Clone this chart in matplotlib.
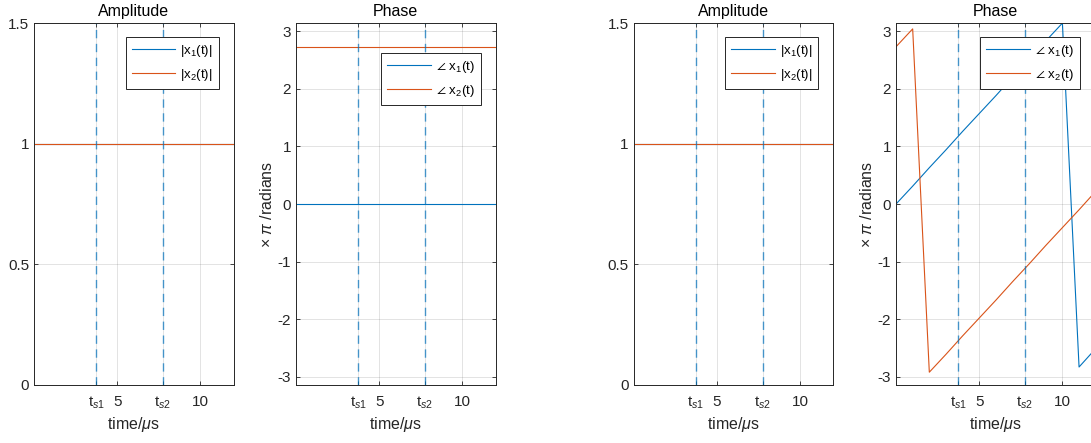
import numpy as np
import matplotlib
matplotlib.use('Agg')
import matplotlib.pyplot as plt

plt.rcParams['font.family'] = ['Liberation Sans', 'DejaVu Sans']
plt.rcParams['mathtext.fontset'] = 'custom'
plt.rcParams['mathtext.rm'] = 'Liberation Sans'
plt.rcParams['mathtext.it'] = 'Liberation Sans:italic'
plt.rcParams['axes.unicode_minus'] = False

# sample times (us)
t = [0, 1, 2, 3, 4, 5, 6, 7, 8, 9, 10, 11, 12]
ts1 = 3.75
ts2 = 7.75

# case 1: constant phase
amp1_a = [1, 1, 1, 1, 1, 1, 1, 1, 1, 1, 1, 1, 1]
amp1_b = [1, 1, 1, 1, 1, 1, 1, 1, 1, 1, 1, 1, 1]
ph1_a = [0, 0, 0, 0, 0, 0, 0, 0, 0, 0, 0, 0, 0]
ph1_b = [2.73, 2.73, 2.73, 2.73, 2.73, 2.73, 2.73, 2.73, 2.73, 2.73, 2.73, 2.73, 2.73]

# case 2: linear phase (wrapped)
amp2_a = [1, 1, 1, 1, 1, 1, 1, 1, 1, 1, 1, 1, 1]
amp2_b = [1, 1, 1, 1, 1, 1, 1, 1, 1, 1, 1, 1, 1]
ph2_a = [0, 0.31, 0.63, 0.94, 1.26, 1.57, 1.88, 2.2, 2.51, 2.83, 3.14, -2.83, -2.51]
ph2_b = [2.73, 3.04, -2.92, -2.61, -2.29, -1.98, -1.67, -1.35, -1.04, -0.72, -0.41, -0.1, 0.22]

blue = (0, 0.447, 0.741)
orange = (0.85, 0.325, 0.098)
dark = (0.15, 0.15, 0.15)

xticks = [ts1, 5, ts2, 10]
xlabels = ['t$_{s1}$', '5', 't$_{s2}$', '10']

fig = plt.figure(figsize=(10.91, 4.43), dpi=100)
lefts = [0.0312, 0.2713, 0.5808, 0.8213]
bot = 0.131
w = 0.183
h = 0.817


def style(ax):
    ax.set_xlim(0, 12)
    ax.set_xticks(xticks)
    ax.set_xticklabels(xlabels)
    ax.grid(True, color=(0.15, 0.15, 0.15), alpha=0.15, linewidth=0.6)
    ax.tick_params(direction='in', length=3, top=True, right=True,
                   colors=dark, labelsize=11, width=0.6)
    ax.tick_params(axis='x', pad=7)
    for s in ax.spines.values():
        s.set_color(dark)
        s.set_linewidth(0.7)
    ax.axvline(ts1, color=blue, linestyle=(0, (6, 4)), linewidth=1, alpha=0.7)
    ax.axvline(ts2, color=blue, linestyle=(0, (6, 4)), linewidth=1, alpha=0.7)
    ax.set_xlabel(r'time/$\mu$s', fontsize=11.5, color=dark, labelpad=3)


def leg(ax, labels, right, top):
    l = ax.legend(labels, loc='upper right', bbox_to_anchor=(right, top),
                  borderaxespad=0, fancybox=False, fontsize=9.5,
                  handlelength=3.3, edgecolor=dark, framealpha=1,
                  labelspacing=0.6, borderpad=0.45, handletextpad=0.4)
    l.get_frame().set_linewidth(0.7)


cases = [(amp1_a, amp1_b, ph1_a, ph1_b, 0.925, 0.917),
         (amp2_a, amp2_b, ph2_a, ph2_b, 0.92, 0.961)]

for k, (aa, ab, pa, pb, lr, lt) in enumerate(cases):
    ax = fig.add_axes([lefts[2 * k], bot, w, h])
    ax.plot(t, aa, color=blue, linewidth=0.8)
    ax.plot(t, ab, color=orange, linewidth=0.8)
    style(ax)
    ax.set_ylim(0, 1.5)
    ax.set_yticks([0, 0.5, 1, 1.5])
    ax.set_yticklabels(['0', '0.5', '1', '1.5'])
    ax.set_title('Amplitude', fontsize=11.5, color='black', pad=5)
    leg(ax, ['|x$_1$(t)|', '|x$_2$(t)|'], 0.925, 0.961)

    ax = fig.add_axes([lefts[2 * k + 1], bot, w, h])
    ax.plot(t, pa, color=blue, linewidth=0.8)
    ax.plot(t, pb, color=orange, linewidth=0.8)
    style(ax)
    ax.set_ylim(-np.pi, np.pi)
    ax.set_yticks([-3, -2, -1, 0, 1, 2, 3])
    ax.set_title('Phase', fontsize=11.5, color='black', pad=5)
    ax.set_ylabel(r'$\times$ $\pi$ /radians', fontsize=11.5, color=dark, labelpad=2)
    leg(ax, [r'$\angle$ x$_1$(t)', r'$\angle$ x$_2$(t)'], lr, lt)

fig.savefig('out.png', dpi=100)
